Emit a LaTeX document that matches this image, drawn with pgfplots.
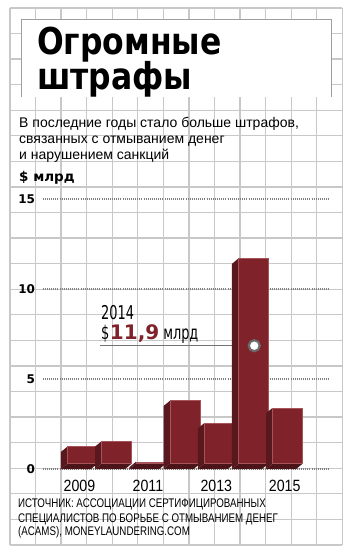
\documentclass[border=0pt]{standalone}
\usepackage{pgfplots}
\pgfplotsset{compat=1.18}
\usepackage{pgfplotstable}
\usepackage{fontspec}
\setmainfont{Liberation Sans}
\newfontfamily\cond[FakeStretch=0.78]{Liberation Sans}
\newfontfamily\condx[FakeStretch=0.87]{Liberation Sans}
\newfontfamily\annf[FakeStretch=0.68]{DejaVu Sans}
\newfontfamily\djv{DejaVu Sans}
\newfontfamily\titlef[FakeStretch=0.85]{DejaVu Sans}
\definecolor{barfront}{RGB}{127,34,41}
\definecolor{barside}{RGB}{88,24,30}
\definecolor{barbottom}{RGB}{74,20,25}
\definecolor{baredge}{RGB}{165,85,90}
\definecolor{gridc}{RGB}{200,200,200}

\pgfplotstableread{
x v
0 1.25
1 1.55
2 0.40
3 3.80
4 2.55
5 11.70
6 3.40
}\fines

\pgfdeclareplotmark{box3d}{%
  \pgfkeys{/pgf/fpu=false}%
  \pgfmathsetmacro\hh{18*\val}%
  \pgfsetfillcolor{barside}%
  \pgfpathmoveto{\pgfpoint{-12pt}{0pt}}%
  \pgfpathlineto{\pgfpoint{-18.5pt}{-5.4pt}}%
  \pgfpathlineto{\pgfpoint{-18.5pt}{-\hh pt}}%
  \pgfpathlineto{\pgfpoint{-12pt}{-\hh pt+5.4pt}}%
  \pgfpathclose
  \pgfusepath{fill}%
  \pgfsetfillcolor{barbottom}%
  \pgfpathmoveto{\pgfpoint{-18.5pt}{-\hh pt}}%
  \pgfpathlineto{\pgfpoint{11.5pt}{-\hh pt}}%
  \pgfpathlineto{\pgfpoint{18pt}{-\hh pt+5.4pt}}%
  \pgfpathlineto{\pgfpoint{-12pt}{-\hh pt+5.4pt}}%
  \pgfpathclose
  \pgfusepath{fill}%
  \pgfsetfillcolor{barfront}%
  \pgfsetstrokecolor{baredge}%
  \pgfsetlinewidth{0.5pt}%
  \pgfpathrectanglecorners{\pgfpoint{-12pt}{-\hh pt+5.4pt}}{\pgfpoint{18pt}{0pt}}%
  \pgfusepath{fill,stroke}%
}

\begin{document}
\begin{tikzpicture}
\useasboundingbox (0,0) rectangle (353pt,554pt);
\fill[white] (0,0) rectangle (353pt,554pt);
% background grid
\foreach \i in {0,...,13} {
  \draw[gridc, line width=1.3pt] ({(10+25.56*\i)*1pt},9pt) -- ({(10+25.56*\i)*1pt},546pt);
}
\foreach \j in {0,...,21} {
  \draw[gridc, line width=1.3pt] (10pt,{(546-25.57*\j)*1pt}) -- (342.3pt,{(546-25.57*\j)*1pt});
}
% title box
\fill[white] (21.7pt,457pt) rectangle (331pt,534.7pt);
\draw[gray!75, line width=0.8pt] (21.7pt,457pt) -- (21.7pt,534.7pt) -- (331pt,534.7pt) -- (331pt,457pt);
\node[anchor=base west, inner sep=0pt] at (37pt,499pt) {\titlef\bfseries\fontsize{37}{37}\selectfont Огромные};
\node[anchor=base west, inner sep=0pt] at (37pt,464pt) {\titlef\bfseries\fontsize{37}{37}\selectfont штрафы};
% subtitle
\node[anchor=base west, inner sep=0pt] at (19pt,426.7pt) {\fontsize{14}{16}\selectfont В последние годы стало больше штрафов,};
\node[anchor=base west, inner sep=0pt] at (19pt,410pt) {\fontsize{14}{16}\selectfont связанных с отмыванием денег};
\node[anchor=base west, inner sep=0pt] at (19pt,394.5pt) {\fontsize{14}{16}\selectfont и нарушением санкций};
\node[anchor=base west, inner sep=0pt] at (19pt,372.3pt) {\djv\bfseries\fontsize{13.5}{16}\selectfont \$ млрд};
% source
\node[anchor=base west, inner sep=0pt] at (18pt,46.3pt) {\cond\fontsize{12.5}{14}\selectfont ИСТОЧНИК: АССОЦИАЦИИ СЕРТИФИЦИРОВАННЫХ};
\node[anchor=base west, inner sep=0pt] at (18pt,31pt) {\cond\fontsize{12.5}{14}\selectfont СПЕЦИАЛИСТОВ ПО БОРЬБЕ С ОТМЫВАНИЕМ ДЕНЕГ};
\node[anchor=base west, inner sep=0pt] at (18pt,18pt) {\cond\fontsize{12.5}{14}\selectfont (ACAMS), MONEYLAUNDERING.COM};

\begin{axis}[
  at={(42.7pt,85pt)}, anchor=south west,
  scale only axis, width=287.3pt, height=270pt,
  xmin=-1.076, xmax=7.325, ymin=0, ymax=15,
  clip=false,
  axis line style={draw=none},
  major tick length=0pt,
  ytick={0,5,10,15},
  yticklabels={\textbf{0},\textbf{5},\textbf{10},\textbf{15}},
  ymajorgrids,
  major grid style={black!50, line width=1.1pt, dash pattern=on 0.9pt off 1.2pt},
  xtick={0,2,4,6},
  xticklabels={2009,2011,2013,2015},
  xticklabel style={font=\condx\fontsize{16.3}{16}\selectfont, anchor=base, inner sep=0pt, yshift=-22.7pt},
  yticklabel style={font=\djv\fontsize{12}{12}\selectfont, anchor=east, inner sep=0pt, xshift=-7.5pt},
]
\addplot[scatter, only marks, mark=box3d, visualization depends on={\thisrow{v} \as \val}] table[x=x,y=v]{\fines};
\addplot[black!55, line width=1pt, mark=*, mark indices={2}, mark options={fill=white, draw=black!58, line width=2.2pt}, mark size=5.5pt] coordinates {(0.6,6.85) (5.11,6.85)};
\end{axis}
% annotation text
\node[anchor=base west, inner sep=0pt] at (101pt,234pt) {\annf\fontsize{19}{19}\selectfont 2014};
\node[anchor=base west, inner sep=0pt] at (101pt,214pt) {\annf\fontsize{19}{19}\selectfont \$\hspace{0.5pt}{\djv\bfseries\fontsize{20}{20}\selectfont\color{barfront}11,9}\hspace{4pt}млрд};
\end{tikzpicture}
\end{document}
